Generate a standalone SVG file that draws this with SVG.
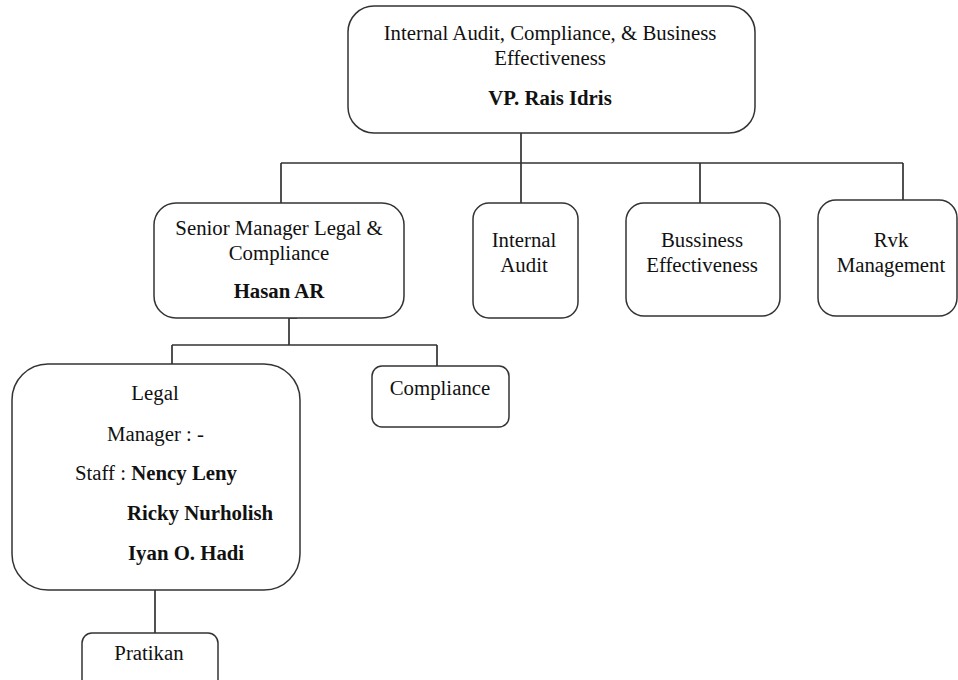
<svg xmlns="http://www.w3.org/2000/svg" width="958" height="680" viewBox="0 0 958 680" font-family="'Liberation Serif', 'Times New Roman', serif">
<style>
.box{fill:#fff;stroke:#333;stroke-width:1.5}
.ln{fill:none;stroke:#333;stroke-width:1.7}
text{font-family:'Liberation Serif','Times New Roman',serif;font-size:20.8px;fill:#111}
.c{text-anchor:middle}
.b{font-weight:bold}
</style>
<rect width="958" height="680" fill="#fff"/>
<g id="connectors">
<path class="ln" d="M521 133V203M281 163H903M281 163V203M700 163V203M903 163V200"/>
<path class="ln" d="M297 318H289V345M172 345H437M172 345V364M437 345V366"/>
<path class="ln" d="M155 590V633"/>
</g>
<g id="vp">
<rect class="box" x="348" y="6" width="407" height="127" rx="26"/>
<text class="c" x="550" y="40">Internal Audit, Compliance, &amp; Business</text>
<text class="c" x="550" y="65">Effectiveness</text>
<text class="c b" x="550" y="105">VP. Rais Idris</text>
</g>
<g id="senior">
<rect class="box" x="154" y="203" width="250" height="115" rx="22"/>
<text class="c" x="279" y="235">Senior Manager Legal &amp;</text>
<text class="c" x="279" y="260">Compliance</text>
<text class="c b" x="279" y="298">Hasan AR</text>
</g>
<g id="internal-audit">
<rect class="box" x="473" y="203" width="105" height="115" rx="16"/>
<text class="c" x="524" y="247">Internal</text>
<text class="c" x="524" y="272">Audit</text>
</g>
<g id="business">
<rect class="box" x="626" y="203" width="154" height="113" rx="18"/>
<text class="c" x="702" y="247">Bussiness</text>
<text class="c" x="702" y="272">Effectiveness</text>
</g>
<g id="rvk">
<rect class="box" x="818" y="200" width="139" height="116" rx="18"/>
<text class="c" x="891" y="247">Rvk</text>
<text class="c" x="891" y="272">Management</text>
</g>
<g id="legal">
<rect class="box" x="12" y="364" width="288" height="226" rx="36"/>
<text class="c" x="155" y="400">Legal</text>
<text x="107" y="441">Manager : -</text>
<text x="75" y="480">Staff : <tspan class="b">Nency Leny</tspan></text>
<text class="b" x="127" y="520">Ricky Nurholish</text>
<text class="b" x="128" y="560">Iyan O. Hadi</text>
</g>
<g id="compliance">
<rect class="box" x="372" y="366" width="137" height="61" rx="10"/>
<text class="c" x="440" y="395">Compliance</text>
</g>
<g id="pratikan">
<rect class="box" x="82" y="633" width="136" height="60" rx="10"/>
<text class="c" x="149" y="660">Pratikan</text>
</g>
</svg>
